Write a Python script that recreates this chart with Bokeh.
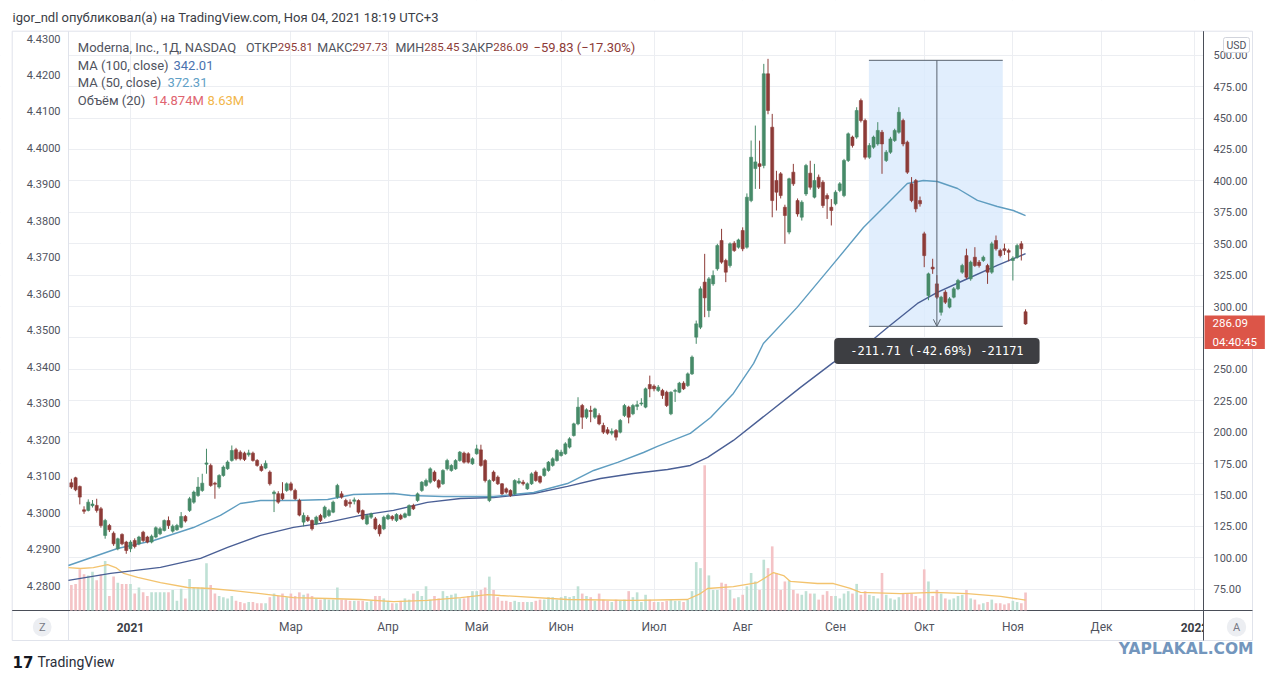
from bokeh.plotting import figure
from bokeh.models import (Range1d, LinearAxis, FixedTicker, PrintfTickFormatter,
                          Label, Arrow, OpenHead, ColumnDataSource)
from bokeh.core.properties import value
from bokeh.embed import file_html
from bokeh.resources import INLINE

# ------------------------------------------------------------------ data
# daily bars, first bar = 11 Dec 2020 (index -1), last = 4 Nov 2021 (index 225)
opens = [
    159.7, 163.7, 156.8, 138.2, 137.7, 141.5, 141.7, 139.0, 117.8, 125.7,
    119.6, 107.2, 118.6, 112.5, 107.2, 113.8, 111.1, 120.4, 116.5, 112.5,
    116.5, 119.1, 121.8, 129.7, 121.2, 122.3, 124.4, 132.9, 137.7, 144.3,
    149.6, 153.6, 174.5, 173.5, 159.4, 156.3, 165.5, 170.9, 177.5, 186.0,
    184.1, 183.3, 182.0, 183.3, 177.5, 172.7, 171.4, 168.2, 151.0, 151.0,
    151.0, 153.6, 158.9, 153.6, 145.6, 128.4, 132.3, 129.7, 127.0, 133.7,
    132.3, 133.7, 136.3, 148.3, 150.9, 145.6, 144.3, 145.0, 145.6, 137.6,
    127.0, 132.3, 131.0, 125.7, 123.1, 131.0, 132.9, 129.7, 133.7, 132.3,
    133.7, 141.6, 145.6, 153.6, 157.6, 160.2, 168.2, 161.5, 158.9, 170.8,
    169.5, 170.8, 177.4, 183.3, 182.8, 174.8, 182.8, 185.9, 177.4, 145.6,
    168.2, 164.2, 158.9, 154.9, 153.6, 150.9, 159.5, 160.2, 154.9, 158.9,
    168.2, 164.7, 165.5, 169.5, 173.5, 177.4, 181.4, 182.8, 188.1, 197.3,
    206.6, 221.2, 211.9, 217.2, 211.9, 213.2, 205.3, 201.9, 199.2, 201.3,
    200.0, 213.2, 219.9, 214.6, 220.5, 222.5, 219.9, 237.9, 236.6, 233.2,
    233.2, 231.8, 214.6, 232.5, 231.8, 239.0, 237.1, 246.4, 275.6, 283.5,
    319.4, 296.8, 318.0, 330.0, 352.5, 336.6, 332.6, 350.4, 347.2, 360.5,
    347.2, 384.3, 409.8, 413.6, 412.2, 485.2, 442.7, 400.3, 405.6, 379.0,
    359.2, 406.9, 384.3, 371.1, 389.6, 406.1, 387.0, 402.9, 398.9, 388.3,
    379.0, 381.7, 392.3, 388.3, 416.2, 434.8, 434.8, 463.9, 448.0, 418.8,
    426.8, 429.4, 438.7, 416.2, 422.8, 432.1, 438.7, 448.0, 430.8, 397.6,
    400.3, 384.3, 357.8, 308.7, 331.3, 318.0, 295.4, 311.4, 299.5, 307.4,
    314.1, 327.3, 340.5, 322.0, 339.2, 335.3, 336.6, 332.6, 327.3, 352.5,
    344.5, 345.9, 344.5, 336.6, 339.2, 349.9, 295.81,
]
highs = [
    162.9, 164.5, 157.5, 141.0, 146.5, 146.0, 147.0, 140.5, 131.0, 127.0,
    121.0, 116.0, 119.5, 113.5, 114.0, 115.5, 117.5, 121.5, 117.5, 118.5,
    125.0, 124.5, 130.5, 132.9, 126.5, 127.0, 136.4, 134.0, 148.5, 153.5,
    164.2, 166.9, 186.8, 175.0, 160.5, 166.5, 173.5, 177.5, 189.4, 187.5,
    185.5, 184.5, 186.0, 184.5, 178.5, 174.5, 177.5, 169.5, 153.6, 153.0,
    160.2, 160.0, 160.5, 155.0, 147.0, 136.0, 134.0, 130.5, 133.5, 135.0,
    141.5, 139.0, 145.5, 158.9, 153.0, 147.0, 146.5, 148.0, 146.5, 138.5,
    134.5, 136.0, 132.5, 127.0, 133.5, 135.0, 134.0, 135.5, 135.0, 136.0,
    142.5, 143.0, 152.0, 161.0, 163.0, 172.0, 169.5, 162.5, 170.5, 178.8,
    174.5, 178.5, 185.0, 184.5, 184.0, 180.0, 190.0, 190.0, 178.5, 162.5,
    169.5, 165.5, 159.5, 156.0, 154.5, 162.5, 163.5, 162.0, 160.0, 168.0,
    169.5, 165.5, 172.0, 177.0, 180.0, 186.5, 186.0, 192.0, 196.0, 207.5,
    227.8, 222.5, 219.0, 221.0, 219.5, 215.0, 207.5, 204.0, 203.0, 202.5,
    210.5, 222.5, 221.0, 222.5, 225.0, 227.0, 235.5, 245.0, 238.0, 237.5,
    234.5, 233.0, 232.5, 234.5, 240.0, 240.5, 247.5, 261.0, 288.8, 316.0,
    341.9, 323.5, 328.7, 349.9, 361.8, 338.0, 351.0, 352.0, 354.0, 363.0,
    390.0, 432.1, 444.0, 432.0, 493.1, 497.1, 453.3, 408.0, 407.0, 381.0,
    402.5, 413.5, 386.0, 384.5, 413.5, 416.0, 413.5, 405.0, 400.5, 390.0,
    385.5, 392.5, 399.0, 417.5, 438.5, 436.0, 458.6, 465.5, 449.5, 430.0,
    436.0, 446.7, 440.5, 424.5, 435.0, 441.5, 458.6, 449.5, 432.0, 403.0,
    401.5, 387.5, 359.5, 327.0, 338.0, 325.0, 308.5, 313.0, 307.5, 315.5,
    322.0, 334.0, 346.0, 336.5, 347.2, 337.0, 340.5, 334.0, 351.5, 356.5,
    346.0, 350.0, 346.0, 340.0, 350.0, 352.0, 297.73,
]
lows = [
    154.9, 153.0, 142.5, 135.0, 136.9, 140.0, 136.0, 124.0, 115.2, 120.5,
    109.5, 106.0, 110.0, 103.2, 104.5, 107.5, 110.0, 112.5, 111.5, 111.5,
    115.5, 118.0, 121.0, 123.0, 120.0, 121.5, 123.5, 128.0, 136.5, 143.0,
    148.5, 152.5, 166.9, 156.5, 147.0, 155.0, 164.5, 170.0, 176.5, 177.5,
    177.5, 177.0, 180.5, 176.5, 172.5, 168.5, 170.5, 157.5, 136.4, 143.0,
    146.0, 152.5, 153.0, 146.0, 133.0, 125.0, 128.5, 121.7, 126.0, 128.5,
    131.0, 132.5, 135.5, 147.0, 147.0, 140.5, 140.0, 142.5, 135.0, 130.0,
    126.0, 131.0, 122.0, 117.0, 122.0, 130.0, 129.5, 128.5, 130.0, 131.5,
    133.0, 138.0, 144.5, 152.5, 156.5, 159.0, 160.5, 155.0, 158.0, 169.5,
    168.5, 170.0, 176.5, 175.0, 175.0, 174.0, 182.0, 172.5, 160.0, 144.3,
    160.5, 158.0, 150.0, 151.0, 148.5, 150.0, 158.5, 157.5, 154.0, 158.0,
    160.5, 159.0, 164.5, 168.5, 172.5, 176.5, 180.5, 182.0, 187.0, 196.5,
    205.5, 202.6, 210.5, 207.9, 210.5, 205.5, 198.5, 198.0, 197.5, 193.3,
    199.0, 212.0, 207.0, 213.5, 217.5, 221.0, 219.0, 227.8, 232.5, 232.0,
    226.5, 220.0, 213.5, 224.0, 231.0, 233.5, 236.0, 245.5, 270.3, 282.0,
    291.5, 291.5, 316.5, 328.5, 334.0, 319.4, 331.0, 343.5, 346.0, 344.0,
    346.0, 383.0, 393.6, 393.6, 410.0, 453.0, 371.0, 376.4, 386.0, 349.9,
    357.5, 396.0, 371.5, 368.4, 388.0, 393.0, 386.0, 393.5, 378.5, 369.7,
    364.5, 380.5, 391.0, 387.0, 415.0, 426.5, 433.5, 446.5, 417.0, 417.5,
    425.5, 428.0, 405.6, 415.0, 421.5, 431.0, 437.5, 427.5, 405.5, 383.0,
    375.0, 379.5, 331.3, 305.0, 326.0, 306.0, 292.8, 302.0, 298.5, 306.5,
    313.0, 326.0, 322.0, 320.5, 331.5, 331.0, 335.5, 318.0, 326.0, 344.5,
    339.0, 341.0, 336.0, 320.7, 338.0, 336.6, 285.45,
]
closes = [
    156.3, 154.1, 148.3, 137.0, 144.3, 142.8, 137.7, 125.7, 129.7, 122.3,
    111.1, 115.1, 111.1, 105.8, 112.5, 109.0, 116.5, 113.8, 112.5, 117.2,
    123.9, 123.1, 129.7, 125.7, 125.2, 125.7, 132.9, 129.2, 147.0, 152.3,
    156.3, 159.4, 175.5, 157.6, 158.6, 165.5, 172.2, 176.2, 185.4, 178.8,
    178.8, 178.3, 183.5, 177.5, 173.5, 169.5, 175.2, 158.9, 152.3, 144.3,
    147.0, 158.9, 154.1, 147.0, 134.0, 133.7, 129.7, 123.1, 132.3, 129.7,
    140.3, 137.6, 144.3, 157.6, 148.3, 141.6, 143.0, 146.1, 136.3, 131.0,
    133.7, 135.0, 123.1, 119.1, 132.3, 133.7, 131.0, 134.5, 131.0, 135.0,
    141.6, 139.0, 150.9, 160.2, 161.5, 170.8, 161.5, 156.2, 169.5, 177.4,
    173.5, 177.4, 184.1, 176.1, 176.1, 178.8, 186.7, 173.5, 161.5, 161.5,
    161.5, 158.9, 150.9, 152.2, 149.6, 161.5, 161.0, 158.9, 158.9, 166.8,
    161.5, 160.2, 170.8, 176.1, 178.8, 185.4, 184.1, 190.7, 194.7, 206.6,
    219.9, 211.9, 217.8, 216.5, 218.5, 206.6, 200.0, 199.2, 200.6, 196.0,
    209.3, 221.2, 211.9, 221.2, 221.8, 223.2, 234.5, 234.5, 234.5, 235.8,
    229.2, 221.2, 231.8, 233.2, 239.0, 234.5, 246.4, 259.7, 286.2, 314.1,
    306.9, 322.0, 324.7, 348.5, 335.3, 327.3, 349.9, 344.5, 353.0, 345.9,
    387.0, 418.8, 415.1, 411.5, 485.2, 456.0, 384.3, 391.0, 388.3, 372.4,
    401.6, 397.6, 373.7, 383.0, 412.2, 394.9, 400.3, 395.0, 380.4, 385.7,
    376.4, 391.0, 397.6, 416.2, 437.4, 428.1, 456.0, 448.0, 418.8, 428.1,
    434.8, 440.1, 429.4, 422.8, 433.4, 440.1, 454.6, 429.4, 406.9, 384.3,
    377.7, 381.7, 340.5, 326.0, 329.9, 307.4, 307.4, 303.4, 306.1, 314.1,
    320.7, 332.6, 323.3, 335.3, 332.6, 332.6, 339.2, 327.3, 349.9, 345.9,
    340.5, 344.5, 343.2, 338.5, 348.5, 345.92, 286.09,
]
volumes_m = [
    21, 22, 34, 30, 29, 32, 25, 30, 41, 12,
    28, 23, 22, 22, 22, 14, 19, 15, 12, 15,
    15, 15, 15, 15, 17, 8, 18, 10, 26, 19,
    19, 19, 39, 21, 14, 12, 11, 10, 12, 8,
    7, 6, 7, 7, 6, 6, 6, 11, 14, 12,
    14, 11, 14, 12, 15, 13, 14, 12, 10, 9,
    10, 9, 9, 19, 9, 9, 8, 8, 8, 8,
    7, 8, 12, 12, 10, 8, 6, 6, 8, 10,
    9, 14, 16, 12, 20, 9, 12, 10, 16, 12,
    13, 14, 10, 10, 12, 16, 16, 17, 19, 28,
    17, 11, 8, 8, 7, 8, 7, 7, 7, 7,
    8, 9, 9, 11, 11, 9, 11, 12, 11, 12,
    20, 14, 12, 11, 8, 14, 9, 8, 7, 9,
    8, 9, 16, 11, 15, 7, 13, 9, 7, 7,
    7, 8, 9, 8, 8, 7, 9, 16, 40, 35,
    120, 29, 17, 17, 23, 22, 17, 10, 11, 13,
    20, 31, 24, 17, 42, 35, 53, 31, 17, 24,
    25, 17, 14, 13, 16, 14, 14, 9, 13, 16,
    12, 12, 10, 14, 16, 14, 22, 13, 16, 13,
    12, 10, 31, 13, 10, 9, 11, 14, 14, 14,
    12, 10, 34, 24, 12, 17, 14, 10, 9, 10,
    12, 13, 17, 10, 9, 5, 6, 7, 9, 6,
    6, 5, 6, 8, 7, 6, 14.874,
]
bar_index = list(range(-1, -1 + len(closes)))

# moving averages (bar index, value)
ma100_idx = [-1.7, 8.3, 20.1, 29.6, 36.0, 43.8, 51.6, 59.7, 67.5, 75.3, 83.3, 91.2, 99.0,
             108.5, 116.5, 124.3, 132.1, 140.2, 145.6, 149.7, 155.8, 163.9, 171.7, 179.5,
             186.6, 192.3, 199.4, 204.1, 210.3, 218.3, 225.0]
ma100_val = [82.0, 87.6, 92.4, 99.5, 108.3, 117.9, 124.2, 128.2, 133.8, 137.7, 144.1, 147.2, 148.0,
             151.2, 156.8, 163.1, 167.1, 170.3, 173.5, 179.9, 193.4, 214.9, 235.6, 255.5,
             267.4, 283.3, 302.4, 311.2, 320.7, 332.7, 342.01]
ma50_idx = [-1.7, 9.9, 18.5, 27.9, 34.3, 39.0, 43.8, 51.6, 59.7, 65.8, 75.3, 79.3, 87.1, 99.0,
            108.5, 116.5, 122.7, 128.4, 134.5, 137.8, 145.6, 150.4, 155.8, 160.6, 162.9, 170.9,
            178.8, 186.6, 192.3, 197.0, 200.8, 204.1, 208.9, 213.6, 218.3, 222.1, 225.0]
ma50_val = [93.9, 107.4, 113.8, 124.1, 133.7, 143.2, 145.6, 145.6, 146.4, 150.4, 151.2, 149.6, 148.8, 148.8,
            152.0, 159.1, 169.5, 175.9, 183.8, 188.6, 199.0, 211.7, 230.8, 254.7, 270.6, 299.3,
            331.1, 362.9, 382.0, 397.9, 400.3, 399.5, 393.9, 384.4, 379.6, 376.4, 372.31]
volma_idx = [-1.7, 1.2, 4.2, 7.6, 9.5, 11.4, 14.7, 20.1, 26.5, 31.9, 37.4, 43.8, 51.6, 59.7, 67.5,
             75.3, 83.3, 91.2, 97.6, 100.6, 116.5, 132.1, 144.9, 148.0, 149.7, 155.8, 161.5, 165.3,
             167.7, 169.3, 175.7, 179.5, 183.5, 185.9, 195.4, 203.2, 211.2, 219.1, 225.0]
volma_val = [35.5, 34.7, 35.5, 38.0, 35.5, 30.6, 27.3, 23.1, 19.0, 18.2, 16.5, 14.0, 10.7, 9.9, 9.1,
             7.4, 8.3, 10.7, 13.2, 12.4, 9.1, 8.3, 9.1, 14.0, 18.2, 19.8, 23.1, 31.4,
             28.9, 24.0, 22.3, 22.3, 18.2, 14.9, 14.0, 14.9, 14.0, 11.6, 8.63]

# axis ticks
tick_index = [13, 51, 74, 95, 115, 137, 158, 180, 201, 222, 243, 265]
tick_labels = ["2021", "Мар", "Апр", "Май", "Июн", "Июл", "Авг", "Сен", "Окт", "Ноя", "Дек", "2022"]
year_labels = ["2021", "2022"]
price_ticks = [75, 100, 125, 150, 175, 200, 225, 250, 275, 300, 325, 350, 375, 400, 425, 450, 475, 500]
left_ticks = [4.28, 4.29, 4.30, 4.31, 4.32, 4.33, 4.34, 4.35, 4.36, 4.37, 4.38, 4.39, 4.40, 4.41, 4.42, 4.43]

# price-range measurement drawing
meas_top = 495.92
meas_bottom = 284.21
meas_left = 187.9
meas_right = 219.6
meas_mid = 204.0
meas_text = "-211.71 (-42.69%) -21171"

last_price_text = "286.09\n04:40:45"

# ------------------------------------------------------------------ geometry (page px)
PX_BAR0, PX_PER_BAR = 75.1, 4.222
PY_500, PY_PER_USD = 54.7, 1.2565
PY_L443, PY_PER_LEFT = 38.0, 3647.0
PX_PER_M, PY_VOL0 = 1.21, 610.0
CANVAS_W, CANVAS_H = 1272, 676
PLOT_L, PLOT_R, PLOT_T, PLOT_B = 68, 1203, 30.7, 610
BOX_L, BOX_R, BOX_B = 11.7, 1252, 640


def xd(px):
    return (px - PX_BAR0) / PX_PER_BAR


def yd(py):
    return 500 - (py - PY_500) / PY_PER_USD


def yl(py):
    return 4.43 - (py - PY_L443) / PY_PER_LEFT


def yv(py):
    return (PY_VOL0 - py) / PX_PER_M


GREEN = "#468a68"
RED = "#8d3b37"
VGREEN = "#bfe1d5"
VRED = "#f4c3c6"
TXT = "#50535e"
FONT = "Roboto"

p = figure(frame_width=CANVAS_W, frame_height=CANVAS_H,
           x_range=Range1d(xd(0), xd(CANVAS_W)),
           y_range=Range1d(yd(CANVAS_H), yd(0)),
           y_axis_location="right", output_backend="svg", toolbar_location=None,
           title=None, min_border=0)
p.extra_y_ranges = {"left": Range1d(yl(CANVAS_H), yl(0)),
                    "vol": Range1d(yv(CANVAS_H), yv(0))}
p.background_fill_color = "white"
p.border_fill_color = "white"
p.outline_line_color = None
p.xgrid.grid_line_color = "#eceef2"
p.ygrid.grid_line_color = "#eceef2"

# right price axis (labels drawn into the price-scale column)
ra = p.yaxis[0]
ra.ticker = FixedTicker(ticks=price_ticks)
ra.formatter = PrintfTickFormatter(format="%.2f")
ra.major_tick_line_color = None
ra.minor_tick_line_color = None
ra.major_tick_out = 0
ra.axis_line_color = None
ra.major_label_standoff = -59
ra.major_label_text_font = FONT
ra.major_label_text_font_size = "11px"
ra.major_label_text_color = TXT

# left scale
la = LinearAxis(y_range_name="left", ticker=FixedTicker(ticks=left_ticks),
                formatter=PrintfTickFormatter(format="%.4f"))
la.major_tick_line_color = None
la.minor_tick_line_color = None
la.major_tick_out = 0
la.axis_line_color = None
la.major_label_standoff = -60
la.major_label_text_font = FONT
la.major_label_text_font_size = "11px"
la.major_label_text_color = TXT
p.add_layout(la, "left")

# time axis (month names; the bold year marks are drawn below)
xa = p.xaxis[0]
xa.ticker = FixedTicker(ticks=tick_index)
xa.major_label_overrides = {t: (" " if lab in year_labels else lab)
                            for t, lab in zip(tick_index, tick_labels)}
xa.major_tick_line_color = None
xa.minor_tick_line_color = None
xa.major_tick_out = 0
xa.axis_line_color = None
xa.major_label_standoff = -57
xa.major_label_text_font = FONT
xa.major_label_text_font_size = "12px"
xa.major_label_text_color = TXT

# ------------------------------------------------------------------ panel backgrounds / separators
band_l = [xd(0), xd(0), xd(0), xd(PLOT_R)]
band_r = [xd(CANVAS_W), xd(CANVAS_W), xd(PLOT_L), xd(CANVAS_W)]
band_t = [yd(0), yd(PLOT_B), yd(PLOT_T), yd(PLOT_T)]
band_b = [yd(PLOT_T), yd(CANVAS_H), yd(PLOT_B), yd(PLOT_B)]
p.quad(left=band_l, right=band_r, top=band_t, bottom=band_b, fill_color="white", line_color=None)

year_ticks = [t for t, lab in zip(tick_index, tick_labels) if lab in year_labels]
p.text(x=year_ticks, y=[yd(626.5)] * len(year_ticks), text=year_labels,
       text_font=value(FONT), text_font_size="12px", text_font_style="bold",
       text_align="center", text_baseline="middle", text_color="#3a3d45")
# price-scale column hides the part of the time scale that runs under it
p.quad(left=[xd(PLOT_R + 0.5)], right=[xd(BOX_R - 0.5)], top=[yd(PLOT_B + 0.5)],
       bottom=[yd(BOX_B - 0.5)], fill_color="white", line_color=None)

p.line([xd(BOX_L), xd(BOX_R), xd(BOX_R), xd(BOX_L), xd(BOX_L)],
       [yd(PLOT_T), yd(PLOT_T), yd(BOX_B), yd(BOX_B), yd(PLOT_T)],
       line_color="#e0e3eb", line_width=1)
p.line([xd(PLOT_L), xd(PLOT_L)], [yd(PLOT_T), yd(BOX_B)], line_color="#e0e3eb", line_width=1)
p.line([xd(BOX_L), xd(BOX_R)], [yd(PLOT_B), yd(PLOT_B)], line_color="#4a4e58", line_width=1)
p.line([xd(PLOT_R), xd(PLOT_R)], [yd(PLOT_T), yd(BOX_B)], line_color="#4a4e58", line_width=1)

# ------------------------------------------------------------------ marks
colors = [GREEN if c >= o else RED for o, c in zip(opens, closes)]
src = ColumnDataSource(dict(
    x=bar_index, o=opens, h=highs, l=lows, c=closes,
    top=[max(o, c) for o, c in zip(opens, closes)],
    bot=[min(o, c) for o, c in zip(opens, closes)],
    col=colors, vol=volumes_m,
    vcol=[VGREEN if c >= o else VRED for o, c in zip(opens, closes)]))

p.quad(left=[meas_left], right=[meas_right], top=[meas_top], bottom=[meas_bottom],
       fill_color="#d9eafc", fill_alpha=0.8, line_color=None)

p.vbar(x="x", width=0.62, top="vol", bottom=0, fill_color="vcol", line_color=None,
       y_range_name="vol", source=src)
p.line(volma_idx, volma_val, y_range_name="vol", line_color="#f3c36e", line_width=1.3)

p.line(ma100_idx, ma100_val, line_color="#4a5f95", line_width=1.4)
p.line(ma50_idx, ma50_val, line_color="#5f9dc0", line_width=1.4)

p.segment(x0="x", y0="h", x1="x", y1="l", line_color="col", line_width=1, source=src)
p.vbar(x="x", width=0.72, top="top", bottom="bot", fill_color="col", line_color="col",
       line_width=0.6, source=src)

p.segment(x0=[meas_left, meas_left], y0=[meas_top, meas_bottom],
          x1=[meas_right, meas_right], y1=[meas_top, meas_bottom],
          line_color="#59636f", line_width=1)
p.add_layout(Arrow(x_start=meas_mid, y_start=meas_top, x_end=meas_mid, y_end=meas_bottom,
                   line_color="#59636f", line_width=1,
                   end=OpenHead(size=7, line_color="#59636f", line_width=1)))
p.add_layout(Label(x=meas_mid, y=yd(350.5), text=meas_text, text_align="center",
                   text_baseline="middle", text_font="DejaVu Sans Mono", text_font_size="12px",
                   text_color="white", background_fill_color="#3d3e42", background_fill_alpha=1.0,
                   border_radius=4, padding=(16, 6)))

# ------------------------------------------------------------------ texts
p.add_layout(Label(x=xd(12), y=yd(17.3),
                   text="igor_ndl опубликовал(а) на TradingView.com, Ноя 04, 2021 18:19 UTC+3",
                   text_align="left", text_baseline="middle", text_font=FONT,
                   text_font_size="13px", text_color="#3b3e46"))

# legend: (text, x, y, colour, size, align)
legend_rows = [
    ("Moderna, Inc., 1Д, NASDAQ", 77.3, 46.7, TXT, "13px", "left"),
    ("ОТКР", 277.2, 46.7, TXT, "12.5px", "right"), ("295.81", 277.2, 46.7, RED, "11.5px", "left"),
    ("МАКС", 351.8, 46.7, TXT, "12.5px", "right"), ("297.73", 351.8, 46.7, RED, "11.5px", "left"),
    ("МИН", 423.7, 46.7, TXT, "12.5px", "right"), ("285.45", 423.7, 46.7, RED, "11.5px", "left"),
    ("ЗАКР", 492.7, 46.7, TXT, "12.5px", "right"), ("286.09", 492.7, 46.7, RED, "11.5px", "left"),
    ("−59.83 (−17.30%)", 533.0, 46.7, RED, "13px", "left"),
    ("MA (100, close)", 77.3, 65.0, TXT, "13px", "left"),
    ("342.01", 173.0, 65.0, "#4a72ae", "13px", "left"),
    ("MA (50, close)", 77.3, 82.3, TXT, "13px", "left"),
    ("372.31", 167.0, 82.3, "#5fa0c6", "13px", "left"),
    ("Объём (20)", 77.3, 100.0, TXT, "13px", "left"),
    ("14.874M", 152.0, 100.0, "#e06470", "13px", "left"),
    ("8.63M", 207.0, 100.0, "#f2b64a", "13px", "left"),
]
for txt, px, py, col, fs, al in legend_rows:
    p.add_layout(Label(x=xd(px), y=yd(py), text=txt, text_align=al, text_baseline="middle",
                       text_font=FONT, text_font_size=fs, text_color=col))

p.add_layout(Label(x=xd(1236), y=yd(44.5), text="USD", text_align="center", text_baseline="middle",
                   text_font=FONT, text_font_size="10.5px", text_color="#50535e",
                   background_fill_color="white", border_line_color="#d1d4dc",
                   border_radius=2, padding=(3, 1)))
p.add_layout(Label(x=xd(1204), y=yd(315), text=last_price_text, text_align="left",
                   text_baseline="top", text_font=FONT, text_font_size="11.5px",
                   text_line_height=1.4, text_color="white", background_fill_color="#dc5548",
                   padding=(8, 0)))

for letter, px in (("Z", 41.7), ("A", 1236)):
    p.add_layout(Label(x=xd(px), y=yd(626.5), text=letter, text_align="center",
                       text_baseline="middle", text_font=FONT, text_font_size="11px",
                       text_color="#787b86", background_fill_color="#eceef2",
                       border_radius=9, padding=(6, 3)))

p.add_layout(Label(x=xd(12), y=yd(661), text="17", text_align="left", text_baseline="middle",
                   text_font="DejaVu Sans", text_font_size="15px", text_font_style="bold",
                   text_color="#131722"))
p.add_layout(Label(x=xd(37), y=yd(661), text="TradingView", text_align="left",
                   text_baseline="middle", text_font=FONT, text_font_size="14px",
                   text_color="#2a2e39"))
p.add_layout(Label(x=xd(1253), y=yd(648.5), text="YAPLAKAL.COM", text_align="right",
                   text_baseline="middle", text_font="DejaVu Sans", text_font_size="15.5px",
                   text_font_style="bold", text_color="#7396bd"))

open("out.html", "w", encoding="utf-8").write(file_html(p, INLINE, "Moderna"))
